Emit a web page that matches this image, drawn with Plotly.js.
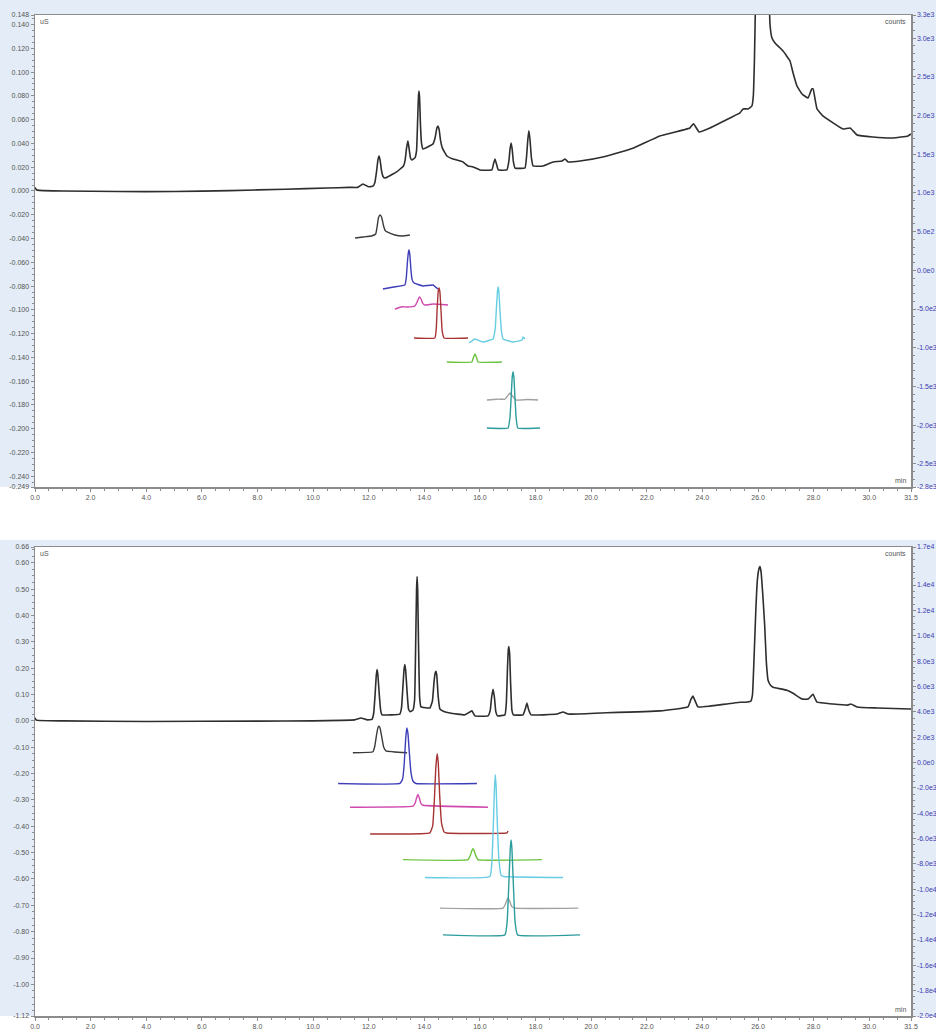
<!DOCTYPE html>
<html>
<head>
<meta charset="utf-8">
<script src="https://cdn.plot.ly/plotly-3.0.1.min.js"></script>
<style>html,body{margin:0;padding:0;background:#fff;}#chart{width:936px;height:1030px;}</style>
</head>
<body>
<div id="chart"></div>
<script>
// ---------- TOP CHART: conductivity (uS, left axis) ----------
const topMainT = [0,0.05,0.15,1,3,5,7,9,10.5,11.3,11.6,11.79,12.0,12.15,12.22,12.28,12.33,12.37,12.41,12.46,12.52,12.59,13.0,13.25,13.31,13.36,13.41,13.45,13.5,13.55,13.66,13.72,13.76,13.79,13.81,13.83,13.86,13.9,13.95,14.2,14.31,14.39,14.45,14.49,14.53,14.58,14.65,14.81,15.03,15.39,15.57,15.75,16.0,16.43,16.49,16.54,16.59,16.66,16.97,17.04,17.08,17.12,17.16,17.2,17.26,17.62,17.68,17.72,17.76,17.8,17.85,17.91,18.27,18.63,18.95,19.06,19.17,19.6,20.5,21.5,22.47,23.55,23.68,23.88,24.27,24.63,24.99,25.35,25.46,25.64,25.78,25.83,25.87,25.91,26.1,26.35,26.43,26.5,26.61,26.9,27.15,27.26,27.4,27.58,27.8,27.93,27.98,28.12,28.33,28.7,29.05,29.31,29.56,30.13,30.85,31.39,31.5];
const topMainV = [0.003,0.001,0.0005,0.0,-0.0005,-0.0005,0.0003,0.0015,0.0025,0.003,0.003,0.0059,0.0035,0.004,0.007,0.016,0.026,0.0294,0.026,0.017,0.012,0.0109,0.016,0.021,0.026,0.036,0.0421,0.036,0.028,0.026,0.0278,0.034,0.060,0.080,0.0841,0.078,0.056,0.040,0.0353,0.038,0.0395,0.045,0.053,0.0547,0.052,0.043,0.036,0.0294,0.0269,0.0244,0.021,0.0202,0.0177,0.0177,0.023,0.0269,0.023,0.0177,0.0177,0.025,0.035,0.0404,0.035,0.025,0.0193,0.0193,0.030,0.043,0.0505,0.043,0.028,0.021,0.021,0.0244,0.0252,0.0269,0.0244,0.0252,0.029,0.036,0.0463,0.0530,0.0565,0.0496,0.0530,0.0572,0.0614,0.0656,0.0690,0.0690,0.0715,0.080,0.110,0.160,0.300,0.200,0.140,0.1287,0.1245,0.1177,0.1093,0.0992,0.0883,0.0816,0.0782,0.0858,0.0858,0.0690,0.0631,0.0572,0.0521,0.0530,0.0471,0.0454,0.0446,0.0463,0.0479];

// top chart overlay traces (counts, right axis)
const topBlackT = [11.51,11.8,12.1,12.25,12.3,12.35,12.41,12.47,12.53,12.6,12.66,12.94,13.2,13.48];
const topBlackC = [418,431,444,470,560,680,715,680,580,510,496,457,444,457];
const topBlueT = [12.51,12.9,13.3,13.35,13.39,13.43,13.45,13.48,13.52,13.56,13.62,13.95,14.31,14.49];
const topBlueC = [-241,-215,-189,-100,100,240,263,200,0,-120,-160,-202,-189,-241];
const topMagT = [12.94,13.1,13.2,13.38,13.66,13.74,13.81,13.84,13.88,13.95,14.02,14.31,14.85];
const topMagC = [-500,-480,-470,-474,-461,-410,-350,-345,-370,-430,-448,-435,-448];
const topRedT = [13.63,14.38,14.43,14.46,14.5,14.53,14.56,14.6,14.64,14.71,15.57];
const topRedC = [-874,-874,-750,-500,-270,-228,-280,-520,-780,-874,-874];
const topCyanT = [15.61,15.82,16.11,16.47,16.55,16.59,16.63,16.65,16.68,16.72,16.77,16.83,17.19,17.51,17.55,17.62];
const topCyanC = [-939,-887,-926,-887,-750,-500,-270,-215,-270,-520,-780,-887,-926,-900,-861,-887];
const topGreenT = [14.81,15.71,15.77,15.82,15.87,15.93,16.79];
const topGreenC = [-1185,-1185,-1120,-1081,-1120,-1185,-1185];
const topGrayT = [16.25,16.6,16.9,17.0,17.08,17.16,17.3,17.7,18.09];
const topGrayC = [-1676,-1665,-1663,-1620,-1585,-1620,-1676,-1670,-1676];
const topTealT = [16.25,17.01,17.08,17.12,17.16,17.19,17.22,17.26,17.3,17.36,18.16];
const topTealC = [-2038,-2038,-1900,-1650,-1380,-1314,-1380,-1650,-1900,-2038,-2038];

// ---------- BOTTOM CHART ----------
const botMainT = [0,0.05,1,4,8,10,11.0,11.5,11.72,11.95,12.12,12.18,12.23,12.27,12.3,12.33,12.38,12.43,12.48,13.12,13.18,13.23,13.27,13.3,13.33,13.38,13.43,13.49,13.59,13.65,13.69,13.72,13.74,13.76,13.79,13.83,13.88,14.2,14.29,14.35,14.39,14.42,14.45,14.5,14.56,14.7,14.92,15.46,15.71,15.82,16.29,16.37,16.42,16.47,16.52,16.57,16.63,16.9,16.95,16.99,17.02,17.04,17.07,17.1,17.15,17.2,17.55,17.63,17.69,17.75,17.84,18.77,18.99,19.17,20.32,22.47,23.48,23.58,23.66,23.74,23.84,24.27,25.35,25.53,25.74,25.8,25.86,25.92,25.98,26.04,26.07,26.11,26.17,26.24,26.3,26.36,26.45,26.54,27.04,27.26,27.58,27.8,27.93,27.98,28.05,28.12,28.7,29.23,29.34,29.56,30.28,31.46,31.5];
const botMainV = [0.012,0.003,0.0,-0.002,-0.001,0.0,0.002,0.004,0.011,0.004,0.006,0.030,0.100,0.170,0.195,0.175,0.100,0.040,0.023,0.026,0.050,0.130,0.195,0.214,0.190,0.110,0.045,0.035,0.041,0.080,0.300,0.500,0.548,0.500,0.300,0.090,0.053,0.049,0.075,0.150,0.182,0.188,0.170,0.090,0.045,0.036,0.030,0.023,0.038,0.019,0.019,0.040,0.090,0.120,0.090,0.035,0.019,0.023,0.070,0.200,0.270,0.282,0.250,0.150,0.040,0.023,0.023,0.045,0.068,0.042,0.023,0.026,0.034,0.026,0.030,0.038,0.053,0.080,0.094,0.075,0.053,0.056,0.071,0.071,0.075,0.100,0.250,0.420,0.540,0.580,0.586,0.565,0.480,0.360,0.220,0.154,0.135,0.128,0.116,0.105,0.083,0.083,0.097,0.101,0.085,0.071,0.064,0.060,0.064,0.053,0.049,0.045,0.045];

const botBlackT = [11.43,12.15,12.22,12.29,12.34,12.37,12.41,12.47,12.54,12.62,13.38];
const botBlackC = [764,842,1300,2300,2800,2871,2700,2000,1200,920,764];
const botBlueT = [10.90,13.12,13.22,13.28,13.33,13.37,13.41,13.46,13.52,13.6,13.7,15.89];
const botBlueC = [-1656,-1656,-1300,0,1900,2715,2300,800,-800,-1500,-1656,-1656];
const botMagT = [11.33,13.59,13.67,13.72,13.77,13.82,13.88,13.95,16.29];
const botMagC = [-3530,-3452,-3200,-2800,-2515,-2800,-3250,-3374,-3530];
const botRedT = [12.05,14.20,14.3,14.36,14.41,14.46,14.5,14.55,14.62,14.7,14.8,16.97,17.01];
const botRedC = [-5637,-5559,-5000,-3000,-500,685,0,-2500,-4800,-5450,-5559,-5559,-5403];
const botGreenT = [13.23,15.57,15.66,15.71,15.75,15.79,15.85,15.93,18.23];
const botGreenC = [-7667,-7667,-7300,-6950,-6808,-6950,-7350,-7667,-7667];
const botCyanT = [14.02,16.36,16.43,16.48,16.52,16.55,16.58,16.62,16.68,16.76,16.85,18.99];
const botCyanC = [-9072,-8994,-7800,-5000,-2200,-954,-1800,-4500,-7600,-8900,-8994,-9072];
const botGrayT = [14.56,16.83,16.92,16.98,17.01,17.06,17.14,17.26,19.53];
const botGrayC = [-11492,-11492,-11150,-10800,-10711,-10900,-11350,-11492,-11492];
const botTealT = [14.67,16.90,16.98,17.04,17.09,17.12,17.15,17.2,17.26,17.35,19.60];
const botTealC = [-13600,-13600,-12500,-9500,-6800,-6106,-6800,-9500,-12500,-13600,-13600];

// ---------- tick labels ----------
const xTickVals = [0,2,4,6,8,10,12,14,16,18,20,22,24,26,28,30,31.5];
const xTickText = ['0.0','2.0','4.0','6.0','8.0','10.0','12.0','14.0','16.0','18.0','20.0','22.0','24.0','26.0','28.0','30.0','31.5'];
const topLeftVals = [0.148,0.140,0.120,0.100,0.080,0.060,0.040,0.020,0.000,-0.020,-0.040,-0.060,-0.080,-0.100,-0.120,-0.140,-0.160,-0.180,-0.200,-0.220,-0.240,-0.249];
const topLeftText = ['0.148','0.140','0.120','0.100','0.080','0.060','0.040','0.020','0.000','-0.020','-0.040','-0.060','-0.080','-0.100','-0.120','-0.140','-0.160','-0.180','-0.200','-0.220','-0.240','-0.249'];
const topRightVals = [3300,3000,2500,2000,1500,1000,500,0,-500,-1000,-1500,-2000,-2500,-2800];
const topRightText = ['3.3e3','3.0e3','2.5e3','2.0e3','1.5e3','1.0e3','5.0e2','0.0e0','-5.0e2','-1.0e3','-1.5e3','-2.0e3','-2.5e3','-2.8e3'];
const botLeftVals = [0.66,0.60,0.50,0.40,0.30,0.20,0.10,0.00,-0.10,-0.20,-0.30,-0.40,-0.50,-0.60,-0.70,-0.80,-0.90,-1.00,-1.12];
const botLeftText = ['0.66','0.60','0.50','0.40','0.30','0.20','0.10','0.00','-0.10','-0.20','-0.30','-0.40','-0.50','-0.60','-0.70','-0.80','-0.90','-1.00','-1.12'];
const botRightVals = [17000,14000,12000,10000,8000,6000,4000,2000,0,-2000,-4000,-6000,-8000,-10000,-12000,-14000,-16000,-18000,-20000];
const botRightText = ['1.7e4','1.4e4','1.2e4','1.0e4','8.0e3','6.0e3','4.0e3','2.0e3','0.0e0','-2.0e3','-4.0e3','-6.0e3','-8.0e3','-1.0e4','-1.2e4','-1.4e4','-1.6e4','-1.8e4','-2.0e4'];

const COLORS = {black:'#3a3a3a', blue:'#3d3db8', mag:'#d048ae', red:'#a83434', cyan:'#66cde3', green:'#6cc43f', gray:'#a0a0a0', teal:'#2d9c9c'};

function tr(x, y, color, xa, ya, w) {
  return {x:x, y:y, type:'scatter', mode:'lines', xaxis:xa, yaxis:ya,
    line:{color:color, width:w||1.4, shape:'spline', smoothing:0.3}, hoverinfo:'skip', showlegend:false};
}

const data = [
  tr(topBlackT, topBlackC, COLORS.black, 'x', 'y2'),
  tr(topBlueT, topBlueC, COLORS.blue, 'x', 'y2'),
  tr(topMagT, topMagC, COLORS.mag, 'x', 'y2'),
  tr(topRedT, topRedC, COLORS.red, 'x', 'y2'),
  tr(topCyanT, topCyanC, COLORS.cyan, 'x', 'y2'),
  tr(topGreenT, topGreenC, COLORS.green, 'x', 'y2'),
  tr(topGrayT, topGrayC, COLORS.gray, 'x', 'y2'),
  tr(topTealT, topTealC, COLORS.teal, 'x', 'y2'),
  tr(topMainT, topMainV, '#2e2e2e', 'x', 'y', 1.6),
  tr(botBlackT, botBlackC, COLORS.black, 'x2', 'y4'),
  tr(botBlueT, botBlueC, COLORS.blue, 'x2', 'y4'),
  tr(botMagT, botMagC, COLORS.mag, 'x2', 'y4'),
  tr(botRedT, botRedC, COLORS.red, 'x2', 'y4'),
  tr(botGreenT, botGreenC, COLORS.green, 'x2', 'y4'),
  tr(botCyanT, botCyanC, COLORS.cyan, 'x2', 'y4'),
  tr(botGrayT, botGrayC, COLORS.gray, 'x2', 'y4'),
  tr(botTealT, botTealC, COLORS.teal, 'x2', 'y4'),
  tr(botMainT, botMainV, '#2e2e2e', 'x2', 'y3', 1.6)
];

const FONT = 'Liberation Sans, Arial, sans-serif';
const tickFont = {family:FONT, size:7, color:'#555'};
const blueFont = {family:FONT, size:7, color:'#4040b0'};
const LINE = '#8c8c8c';

const MT = 15, MB = 14;
const PW = 876, PH = 1030 - MT - MB;
const TOPD = [1 - 472/PH, 1];
const BOTD = [0, 1 - 532/PH];

function xax(anchor) {
  return {domain:[0,1], anchor:anchor, range:[0,31.5], tickmode:'array', tickvals:xTickVals, ticktext:xTickText,
    ticks:'outside', ticklen:3, tickcolor:LINE, tickfont:tickFont, showgrid:false, zeroline:false,
    showline:true, linecolor:LINE, linewidth:1.5, mirror:true,
    minor:{tickmode:'linear', tick0:0, dtick:0.5, ticks:'outside', ticklen:2, tickcolor:LINE}};
}
function yl(domain, range, vals, text, mdt, anchor) {
  return {domain:domain, anchor:anchor, range:range, tickmode:'array', tickvals:vals, ticktext:text,
    ticks:'outside', ticklen:3, tickcolor:LINE, tickfont:tickFont, showgrid:false, zeroline:false,
    showline:true, linecolor:LINE, linewidth:1.5,
    minor:{tickmode:'linear', tick0:0, dtick:mdt, ticks:'outside', ticklen:2, tickcolor:LINE}};
}
function yr(over, anchor, range, vals, text, mdt) {
  return {overlaying:over, anchor:anchor, side:'right', range:range, tickmode:'array', tickvals:vals, ticktext:text,
    ticks:'outside', ticklen:3, tickcolor:LINE, tickfont:blueFont, showgrid:false, zeroline:false,
    showline:true, linecolor:LINE, linewidth:1.5,
    minor:{tickmode:'linear', tick0:0, dtick:mdt, ticks:'outside', ticklen:2, tickcolor:LINE}};
}

const bg = '#e3ecf7';
function rect(x0, x1, y0, y1) {
  return {type:'rect', xref:'paper', yref:'paper', x0:x0, x1:x1, y0:y0, y1:y1, fillcolor:bg, line:{width:0}, layer:'below'};
}
const shapes = [
  rect(-35/PW, 0, TOPD[0], TOPD[1] + MT/PH),
  rect(1, 1 + 25/PW, TOPD[0], TOPD[1] + MT/PH),
  rect(-35/PW, 1 + 25/PW, 1, 1 + MT/PH),
  rect(-35/PW, 0, BOTD[0], BOTD[1] + 7/PH),
  rect(1, 1 + 25/PW, BOTD[0], BOTD[1] + 7/PH),
  rect(-35/PW, 1 + 25/PW, BOTD[1], BOTD[1] + 7/PH)
];

function ann(text, x, y, xa, ya) {
  return {text:text, xref:'paper', yref:'paper', x:x, y:y, xanchor:xa, yanchor:ya, showarrow:false,
    font:{family:FONT, size:7, color:'#555'}};
}
const annotations = [
  ann('uS', 0.003, TOPD[1] - 0.001, 'left', 'top'),
  ann('counts', 0.997, TOPD[1] - 0.001, 'right', 'top'),
  ann('min', 0.997, TOPD[0] + 0.001, 'right', 'bottom'),
  ann('uS', 0.003, BOTD[1] - 0.001, 'left', 'top'),
  ann('counts', 0.997, BOTD[1] - 0.001, 'right', 'top'),
  ann('min', 0.997, BOTD[0] + 0.001, 'right', 'bottom')
];

const layout = {
  width:936, height:1030,
  margin:{l:35, r:25, t:MT, b:MB},
  paper_bgcolor:'#ffffff', plot_bgcolor:'#ffffff',
  showlegend:false,
  xaxis: xax('y'),
  yaxis: yl(TOPD, [-0.249, 0.148], topLeftVals, topLeftText, 0.005, 'x'),
  yaxis2: yr('y', 'x', [-2800, 3300], topRightVals, topRightText, 100),
  xaxis2: xax('y3'),
  yaxis3: yl(BOTD, [-1.12, 0.66], botLeftVals, botLeftText, 0.025, 'x2'),
  yaxis4: yr('y3', 'x2', [-20000, 17000], botRightVals, botRightText, 500),
  shapes: shapes,
  annotations: annotations
};

Plotly.newPlot('chart', data, layout, {displayModeBar:false, staticPlot:true});
</script>
</body>
</html>
